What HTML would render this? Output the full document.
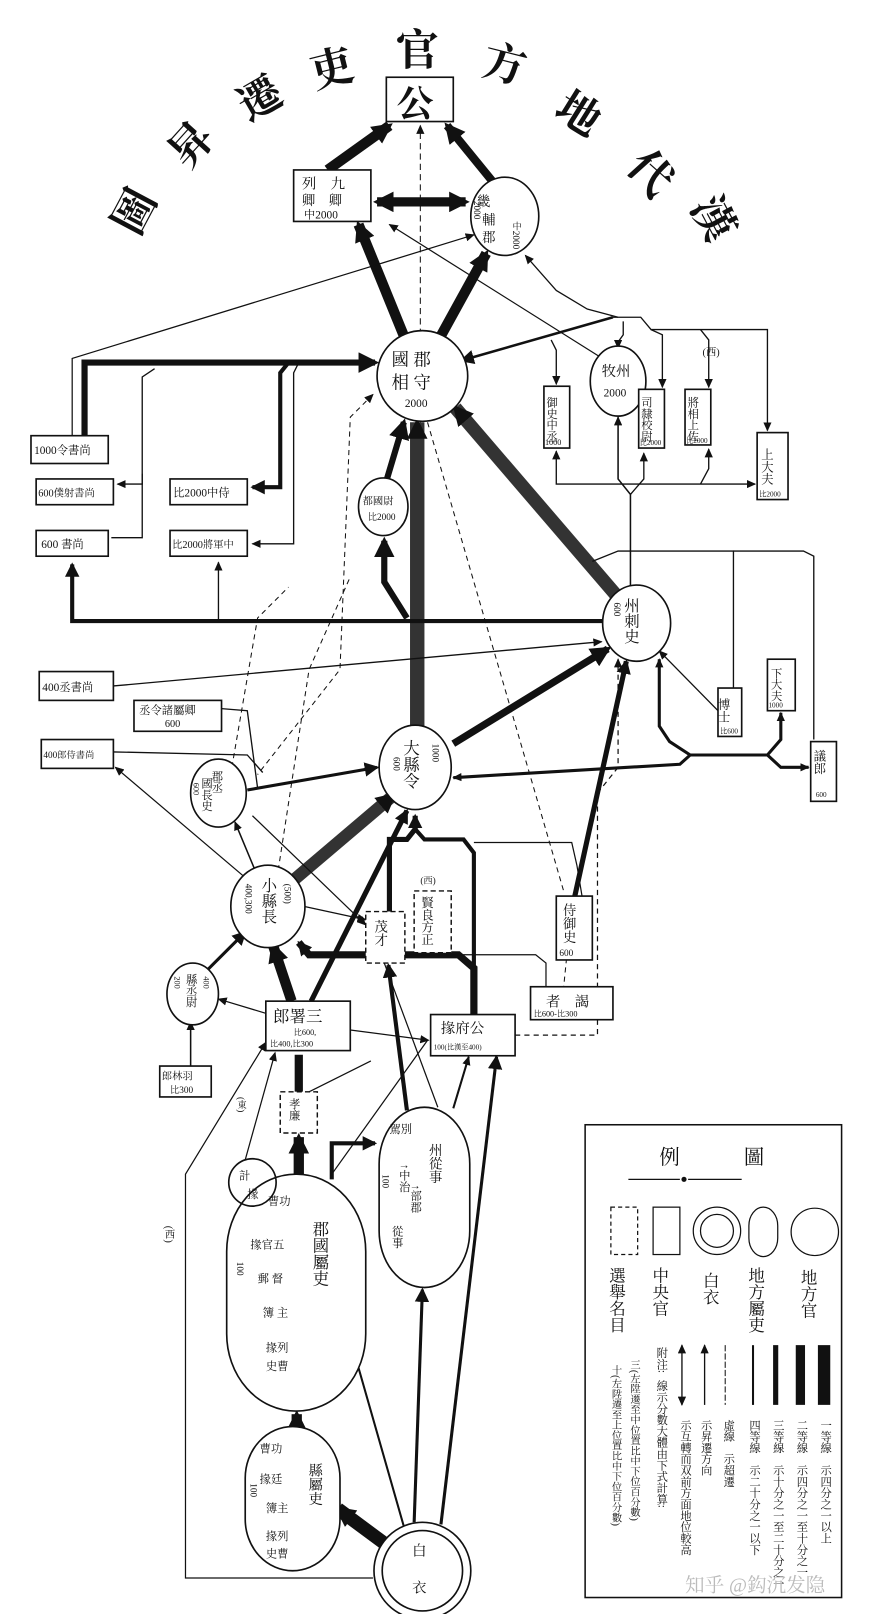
<!DOCTYPE html>
<html><head><meta charset="utf-8"><style>
html,body{margin:0;padding:0;background:#fff;}
svg{display:block;}
text{font-family:"Liberation Serif","Noto Serif CJK SC","Noto Sans CJK SC",serif;fill:#111;}
.v{writing-mode:tb;}
</style></head><body>
<svg width="887" height="1614" viewBox="0 0 861 1567" xmlns="http://www.w3.org/2000/svg">
<defs>
<marker id="a" markerUnits="userSpaceOnUse" markerWidth="9" markerHeight="8" refX="8" refY="4" orient="auto"><path d="M0,0 L9,4 L0,8z" fill="#111"/></marker>
<marker id="b" markerUnits="userSpaceOnUse" markerWidth="20" markerHeight="20" refX="16" refY="10" orient="auto"><path d="M0,0 L20,10 L0,20z" fill="#111"/></marker>
<marker id="c" markerUnits="userSpaceOnUse" markerWidth="14" markerHeight="14" refX="12" refY="7" orient="auto"><path d="M0,0 L14,7 L0,14z" fill="#111"/></marker>
<marker id="as" markerUnits="userSpaceOnUse" markerWidth="9" markerHeight="8" refX="1" refY="4" orient="auto"><path d="M9,0 L0,4 L9,8z" fill="#111"/></marker>
<marker id="bs" markerUnits="userSpaceOnUse" markerWidth="20" markerHeight="20" refX="4" refY="10" orient="auto"><path d="M20,0 L0,10 L20,20z" fill="#111"/></marker>
</defs>
<rect width="861" height="1567" fill="#fff"/>

<!-- title arc -->
<g font-size="42" font-weight="bold" text-anchor="middle">
<text transform="translate(130,205) rotate(-62)" y="15">圖</text>
<text transform="translate(185,140) rotate(-48)" y="15">昇</text>
<text transform="translate(252,95) rotate(-30)" y="15">遷</text>
<text transform="translate(322,66) rotate(-14)" y="15">吏</text>
<text transform="translate(405,48)" y="15">官</text>
<text transform="translate(490,62) rotate(14)" y="15">方</text>
<text transform="translate(562,110) rotate(32)" y="15">地</text>
<text transform="translate(632,168) rotate(48)" y="15">代</text>
<text transform="translate(693,212) rotate(62)" y="15">漢</text>
</g>

<g fill="none" stroke="#111">
<line x1="318" y1="165" x2="378" y2="122" stroke-width="10" marker-end="url(#b)"/>
<line x1="478" y1="176" x2="434" y2="122" stroke-width="8" marker-end="url(#b)"/>
<line x1="392" y1="326" x2="348" y2="218" stroke-width="10" marker-end="url(#b)"/>
<line x1="428" y1="326" x2="472" y2="246" stroke-width="10" marker-end="url(#b)"/>
<line x1="366" y1="196" x2="452" y2="196" stroke-width="9" marker-start="url(#bs)" marker-end="url(#b)"/>
<line x1="408" y1="705" x2="408" y2="122" stroke-width="1" stroke-dasharray="6,4" marker-end="url(#a)"/>
<polyline points="82,425 82,352 364,352" stroke-width="6" marker-end="url(#b)"/>
<polyline points="280,352 272,362 272,473 245,473" stroke-width="4" marker-end="url(#c)"/>
<polyline points="290,352 285,362 285,528 245,528" stroke-width="1.3" marker-end="url(#a)"/>
<polyline points="150,358 138,366 138,470 114,470" stroke-width="1.3" marker-end="url(#a)"/>
<polyline points="138,460 138,522 108,522" stroke-width="1.3"/>
<polyline points="70,425 70,348 460,228" stroke-width="1.2" marker-end="url(#a)"/>
<line x1="378" y1="218" x2="588" y2="350" stroke-width="1.2" marker-start="url(#as)"/>
<polyline points="600,308 570,300 540,282 510,248" stroke-width="1.2" marker-end="url(#a)"/>
<line x1="595" y1="308" x2="448" y2="350" stroke-width="2.5" marker-end="url(#c)"/>
<polyline points="595,308 622,308 632,320 745,320 745,418" stroke-width="1.3" marker-end="url(#a)"/>
<polyline points="605,312 605,325 600,332 600,338" stroke-width="1.3" marker-end="url(#a)"/>
<polyline points="632,320 643,325 643,376" stroke-width="1.3" marker-end="url(#a)"/>
<polyline points="680,320 688,330 688,376" stroke-width="1.3" marker-end="url(#a)"/>
<polyline points="535,330 540,340 540,373" stroke-width="1.3" marker-end="url(#a)"/>
<polyline points="612,570 612,480 600,465 600,405" stroke-width="1.5" marker-end="url(#a)"/>
<polyline points="612,480 625,465 625,440" stroke-width="1.3" marker-end="url(#a)"/>
<polyline points="540,438 540,470 733,470" stroke-width="1.3" marker-start="url(#as)" marker-end="url(#a)"/>
<polyline points="680,470 688,455 688,436" stroke-width="1.3" marker-end="url(#a)"/>
<line x1="600" y1="580" x2="442" y2="396" stroke-width="13" stroke="#333" marker-end="url(#b)"/>
<line x1="405" y1="708" x2="405" y2="410" stroke-width="14" stroke="#333" marker-end="url(#b)"/>
<polyline points="395,600 373,565 373,525" stroke-width="6" marker-end="url(#b)"/>
<line x1="375" y1="467" x2="392" y2="410" stroke-width="6" marker-end="url(#b)"/>
<polyline points="585,603 70,603 70,548" stroke-width="4" marker-end="url(#c)"/>
<polyline points="212,603 212,560 212,546" stroke-width="1.3" marker-end="url(#a)"/>
<line x1="110" y1="666" x2="584" y2="623" stroke-width="1.3" marker-end="url(#a)"/>
<line x1="440" y1="722" x2="590" y2="630" stroke-width="7" marker-end="url(#b)"/>
<line x1="558" y1="870" x2="608" y2="642" stroke-width="5" marker-end="url(#c)"/>
<line x1="697" y1="690" x2="640" y2="632" stroke-width="1.3" marker-end="url(#a)"/>
<polyline points="575,545 600,535 712,535 712,668" stroke-width="1.3"/>
<polyline points="712,535 780,535 790,540 790,718" stroke-width="1.3"/>
<polyline points="440,755 660,742 670,733 745,733 758,718 758,692" stroke-width="3" marker-start="url(#as)" marker-end="url(#a)"/>
<polyline points="670,733 650,720 640,705 640,640" stroke-width="3" marker-end="url(#a)"/>
<polyline points="745,733 758,745 785,745" stroke-width="3" marker-end="url(#a)"/>
<polyline points="215,688 240,690 250,765 368,745" stroke-width="1.3"/>
<line x1="240" y1="767" x2="366" y2="745" stroke-width="3" marker-end="url(#c)"/>
<polyline points="110,730 240,733 255,750" stroke-width="1.3"/>
<line x1="282" y1="857" x2="382" y2="772" stroke-width="12" stroke="#333" marker-end="url(#b)"/>
<line x1="248" y1="846" x2="228" y2="798" stroke-width="1.5" marker-end="url(#a)"/>
<line x1="238" y1="852" x2="112" y2="745" stroke-width="1.2" marker-end="url(#a)"/>
<line x1="245" y1="792" x2="355" y2="898" stroke-width="1.2" marker-end="url(#a)"/>
<line x1="295" y1="880" x2="355" y2="893" stroke-width="1.2" marker-end="url(#a)"/>
<line x1="198" y1="945" x2="238" y2="905" stroke-width="3" marker-end="url(#c)"/>
<line x1="185" y1="1035" x2="185" y2="992" stroke-width="1.5" marker-end="url(#a)"/>
<line x1="262" y1="985" x2="212" y2="970" stroke-width="1.2" marker-end="url(#a)"/>
<line x1="283" y1="972" x2="265" y2="918" stroke-width="10" marker-end="url(#b)"/>
<line x1="302" y1="972" x2="395" y2="787" stroke-width="5" marker-end="url(#c)"/>
<polyline points="460,985 460,940 445,927 300,927 290,915" stroke-width="7" marker-end="url(#c)"/>
<polyline points="378,885 378,815 395,815 403,805 403,792" stroke-width="5" marker-end="url(#c)"/>
<polyline points="403,805 412,815 450,815 460,828 460,985" stroke-width="4"/>
<polyline points="460,818 555,818 560,840 565,870" stroke-width="1.2"/>
<polyline points="300,927 520,927 530,935 530,958" stroke-width="1.2"/>
<polyline points="362,383 340,405 330,650 250,752" stroke-width="1" stroke-dasharray="5,4" marker-start="url(#as)"/>
<line x1="415" y1="410" x2="548" y2="868" stroke-width="1" stroke-dasharray="5,4"/>
<polyline points="225,745 250,600 280,570" stroke-width="1" stroke-dasharray="5,4"/>
<polyline points="270,845 300,650 340,560" stroke-width="1" stroke-dasharray="5,4"/>
<polyline points="500,1005 580,1005 580,770 600,745 600,640" stroke-width="1.2" stroke-dasharray="5,4" marker-end="url(#a)"/>
<polyline points="545,980 555,880" stroke-width="1" stroke-dasharray="5,4"/>
<line x1="290" y1="1060" x2="290" y2="1024" stroke-width="8"/>
<line x1="290" y1="1140" x2="290" y2="1104" stroke-width="10" marker-end="url(#b)"/>
<line x1="288" y1="1385" x2="288" y2="1373" stroke-width="10" marker-end="url(#b)"/>
<polyline points="322,1145 322,1110 364,1110" stroke-width="4" marker-end="url(#c)"/>
<polyline points="362,1532 180,1532 180,1140 258,1012" stroke-width="1.2" marker-end="url(#a)"/>
<line x1="238" y1="1126" x2="267" y2="1022" stroke-width="1.2" marker-end="url(#a)"/>
<line x1="322" y1="1140" x2="415" y2="1010" stroke-width="1.2"/>
<line x1="340" y1="1000" x2="416" y2="1010" stroke-width="1.2" marker-end="url(#a)"/>
<line x1="300" y1="1060" x2="360" y2="1030" stroke-width="1.2"/>
<line x1="440" y1="1076" x2="455" y2="1026" stroke-width="2" marker-end="url(#a)"/>
<line x1="395" y1="1078" x2="377" y2="937" stroke-width="4" marker-end="url(#c)"/>
<line x1="425" y1="1075" x2="373" y2="935" stroke-width="1.2"/>
<line x1="378" y1="1502" x2="328" y2="1465" stroke-width="13" marker-end="url(#b)"/>
<line x1="392" y1="1482" x2="340" y2="1300" stroke-width="2" marker-end="url(#a)"/>
<line x1="402" y1="1478" x2="410" y2="1252" stroke-width="3" marker-end="url(#c)"/>
<line x1="428" y1="1480" x2="482" y2="1026" stroke-width="3" marker-end="url(#c)"/>
</g>

<g stroke="#111" stroke-width="1.6" fill="#fff">
<rect x="375" y="75" width="65" height="43"/>
<rect x="285" y="165" width="75" height="50"/>
<ellipse cx="490" cy="210" rx="33" ry="38"/>
<circle cx="410" cy="365" r="44"/>
<ellipse cx="600" cy="370" rx="27" ry="34"/>
<rect x="528" y="375" width="25" height="60"/>
<rect x="620" y="378" width="25" height="57"/>
<rect x="665" y="378" width="25" height="54"/>
<rect x="735" y="420" width="30" height="65"/>
<rect x="30" y="423" width="75" height="27"/>
<rect x="35" y="465" width="75" height="25"/>
<rect x="35" y="515" width="70" height="25"/>
<rect x="165" y="465" width="75" height="25"/>
<rect x="165" y="515" width="75" height="25"/>
<ellipse cx="372" cy="492" rx="24" ry="28"/>
<ellipse cx="618" cy="605" rx="33" ry="37"/>
<rect x="38" y="652" width="72" height="28"/>
<rect x="130" y="680" width="85" height="30"/>
<rect x="40" y="718" width="70" height="28"/>
<ellipse cx="403" cy="745" rx="35" ry="41"/>
<rect x="697" y="668" width="23" height="47"/>
<rect x="745" y="640" width="27" height="50"/>
<rect x="787" y="720" width="25" height="58"/>
<ellipse cx="212" cy="770" rx="27" ry="33"/>
<ellipse cx="260" cy="880" rx="36" ry="40"/>
<rect x="540" y="870" width="35" height="62"/>
<ellipse cx="187" cy="965" rx="25" ry="30"/>
<rect x="258" y="972" width="82" height="48"/>
<rect x="418" y="985" width="82" height="40"/>
<rect x="515" y="958" width="80" height="32"/>
<rect x="155" y="1035" width="50" height="30"/>
<rect x="368" y="1075" width="88" height="175" rx="44" ry="55"/>
<rect x="220" y="1140" width="135" height="230" rx="67" ry="75"/>
<circle cx="245" cy="1148" r="23" fill="none"/>
<rect x="238" y="1385" width="92" height="140" rx="46" ry="50"/>
<circle cx="410" cy="1525" r="47"/>
<circle cx="410" cy="1525" r="39" fill="none"/>
</g>
<g stroke="#111" stroke-width="1.4" fill="#fff" stroke-dasharray="5,3">
<rect x="355" y="885" width="38" height="50"/>
<rect x="402" y="865" width="36" height="60"/>
<rect x="272" y="1060" width="36" height="40"/>
</g>

<g font-size="13">
<text x="385" y="113" font-size="36" font-weight="bold">公</text>
<text x="293" y="183" font-size="14">列　九</text><text x="293" y="199" font-size="13">卿　卿</text><text x="295" y="212" font-size="11">中2000</text>
<text x="463" y="200" font-size="13">畿 </text><text x="468" y="218">輔</text><text x="468" y="235">郡</text>
<text x="500" y="215" font-size="9" class="v">中2000</text><text x="462" y="195" font-size="9" class="v">2000</text>
<text x="380" y="355" font-size="17">國 郡</text><text x="380" y="377" font-size="17">相 守</text><text x="393" y="395" font-size="11">2000</text>
<text x="584" y="365" font-size="14">牧州</text><text x="586" y="385" font-size="11">2000</text>
<text x="535" y="385" font-size="11" class="v">御史中丞</text><text x="529" y="432" font-size="8">1000</text>
<text x="627" y="385" font-size="11" class="v">司隸校尉</text><text x="621" y="432" font-size="7">比2000</text>
<text x="672" y="385" font-size="11" class="v">將相上佐</text><text x="666" y="430" font-size="7">比2000</text>
<text x="682" y="345" font-size="10">(西)</text>
<text x="744" y="435" font-size="12" class="v">上大夫</text><text x="737" y="482" font-size="7">比2000</text>
<text x="33" y="441" font-size="11">1000令書尚</text>
<text x="37" y="482" font-size="10">600僕射書尚</text>
<text x="40" y="532" font-size="11">600 書尚</text>
<text x="168" y="482" font-size="11">比2000中侍</text>
<text x="167" y="532" font-size="10">比2000將軍中</text>
<text x="352" y="490" font-size="10">都國尉</text><text x="357" y="505" font-size="9">比2000</text>
<text x="612" y="580" font-size="15" class="v">州刺史</text><text x="598" y="585" font-size="9" class="v">600</text>
<text x="41" y="671" font-size="11">400丞書尚</text>
<text x="135" y="693" font-size="11">丞令諸屬卿</text><text x="160" y="706" font-size="10">600</text>
<text x="42" y="736" font-size="9">400郎侍書尚</text>
<text x="398" y="718" font-size="16" class="v">大縣令</text><text x="384" y="735" font-size="9" class="v">600</text><text x="422" y="722" font-size="9" class="v">1000</text>
<text x="702" y="678" font-size="12" class="v">博士</text><text x="699" y="712" font-size="7">比600</text>
<text x="753" y="648" font-size="11" class="v">下大夫</text><text x="746" y="687" font-size="7">1000</text>
<text x="795" y="728" font-size="12" class="v">議郎</text><text x="792" y="774" font-size="7">600</text>
<text x="210" y="748" font-size="11" class="v">郡丞</text><text x="200" y="755" font-size="11" class="v">國長史</text><text x="190" y="760" font-size="8" class="v">600</text>
<text x="260" y="852" font-size="15" class="v">小縣長</text><text x="240" y="858" font-size="9" class="v">400,300</text><text x="278" y="858" font-size="9" class="v">(500)</text>
<text x="369" y="893" font-size="13" class="v">茂才</text>
<text x="414" y="870" font-size="12" class="v">賢良方正</text><text x="408" y="858" font-size="9">(西)</text>
<text x="552" y="877" font-size="13" class="v">侍御史</text><text x="543" y="928" font-size="9">600</text>
<text x="185" y="945" font-size="11" class="v">縣丞尉</text><text x="172" y="948" font-size="8" class="v">200</text><text x="200" y="948" font-size="8" class="v">400</text>
<text x="265" y="992" font-size="16">郎署三</text><text x="285" y="1005" font-size="8">比600,</text><text x="262" y="1016" font-size="8">比400,比300</text>
<text x="428" y="1003" font-size="14">掾府公</text><text x="421" y="1019" font-size="7">100(比漢至400)</text>
<text x="530" y="977" font-size="14">者　謁</text><text x="518" y="987" font-size="8">比600-比300</text>
<text x="157" y="1048" font-size="10">郎林羽</text><text x="165" y="1061" font-size="9">比300</text>
<text x="285" y="1066" font-size="11" class="v">孝廉</text>
<text x="233" y="1065" font-size="9" class="v">(東)</text>
<text x="163" y="1190" font-size="10" class="v">(西)</text>
<text x="378" y="1100" font-size="11">駕別</text>
<text x="422" y="1110" font-size="13" class="v">州從事</text>
<text x="392" y="1130" font-size="11" class="v">↑中治</text><text x="403" y="1150" font-size="11" class="v">↑部郡</text>
<text x="385" y="1190" font-size="11" class="v">從事</text>
<text x="373" y="1140" font-size="9" class="v">100</text>
<text x="232" y="1145" font-size="11">計</text><text x="240" y="1163" font-size="11">掾</text>
<text x="260" y="1170" font-size="11">曹功</text>
<text x="243" y="1212" font-size="11">掾官五</text><text x="250" y="1245" font-size="11">郵 督</text>
<text x="255" y="1278" font-size="11">簿 主</text><text x="258" y="1312" font-size="11">掾列</text><text x="258" y="1330" font-size="11">史曹</text>
<text x="310" y="1185" font-size="16" class="v">郡國屬吏</text>
<text x="232" y="1225" font-size="9" class="v">100</text>
<text x="252" y="1410" font-size="11">曹功</text><text x="252" y="1440" font-size="11">掾廷</text>
<text x="258" y="1468" font-size="11">簿主</text><text x="258" y="1495" font-size="11">掾列</text><text x="258" y="1512" font-size="11">史曹</text>
<text x="305" y="1420" font-size="14" class="v">縣屬吏</text>
<text x="245" y="1440" font-size="9" class="v">100</text>
<text x="400" y="1510" font-size="14">白</text><text x="400" y="1546" font-size="14">衣</text>
</g>

<g stroke="#111" fill="none">
<rect x="568" y="1092" width="249" height="459" stroke-width="1.5"/>
<line x1="610" y1="1145" x2="660" y2="1145" stroke-width="1.2"/><line x1="668" y1="1145" x2="720" y2="1145" stroke-width="1.2"/>
<rect x="593" y="1172" width="26" height="46" stroke-dasharray="4,3" stroke-width="1.2"/>
<rect x="634" y="1172" width="26" height="46" stroke-width="1.2"/>
<circle cx="696" cy="1195" r="23" stroke-width="1.2"/><circle cx="696" cy="1195" r="16" stroke-width="1.2"/>
<rect x="727" y="1172" width="28" height="48" rx="14" ry="18" stroke-width="1.2"/>
<circle cx="791" cy="1196" r="23" stroke-width="1.2"/>
<line x1="662" y1="1306" x2="662" y2="1364" stroke-width="1.3" marker-start="url(#as)" marker-end="url(#a)"/>
<line x1="684" y1="1364" x2="684" y2="1306" stroke-width="1.3" marker-end="url(#a)"/>
<line x1="704" y1="1306" x2="704" y2="1364" stroke-width="1" stroke-dasharray="6,2"/>
<line x1="731" y1="1306" x2="731" y2="1364" stroke-width="2"/>
<line x1="753" y1="1306" x2="753" y2="1364" stroke-width="5"/>
<line x1="777" y1="1306" x2="777" y2="1364" stroke-width="9"/>
<line x1="800" y1="1306" x2="800" y2="1364" stroke-width="12"/>
</g>
<circle cx="664" cy="1145" r="2.5" fill="#111"/>
<g font-size="16">
<text x="640" y="1130" font-size="20">例</text><text x="722" y="1130" font-size="20">圖</text>
<text x="598" y="1230" class="v">選舉名目</text><text x="640" y="1230" class="v">中央官</text>
<text x="689" y="1235" class="v">白衣</text><text x="733" y="1230" class="v">地方屬吏</text><text x="784" y="1232" class="v">地方官</text>
</g>
<g font-size="11">
<text x="642" y="1308" class="v">附注:</text>
<text x="642" y="1340" class="v">線示分數大體由下式計算:</text>
<text x="615" y="1320" font-size="10" class="v">三(左陞遷至中位置比中下位百分數)</text>
<text x="597" y="1325" font-size="10" class="v">十(左陞遷至上位置比中下位百分數)</text>
<text x="665" y="1378" class="v">示互轉而双前方面地位較高</text>
<text x="685" y="1378" class="v">示昇遷方向</text>
<text x="707" y="1378" class="v">虛線　示超遷</text>
<text x="732" y="1378" class="v">四等線　示二十分之一以下</text>
<text x="755" y="1378" class="v">三等線　示十分之一至二十分之一</text>
<text x="778" y="1378" class="v">二等線　示四分之一至十分之一</text>
<text x="801" y="1378" class="v">一等線　示四分之一以上</text>
</g>
<text x="665" y="1545" font-size="19" style="fill:#bbb">知乎 @鈎沉发隐</text>
</svg>
</body></html>
